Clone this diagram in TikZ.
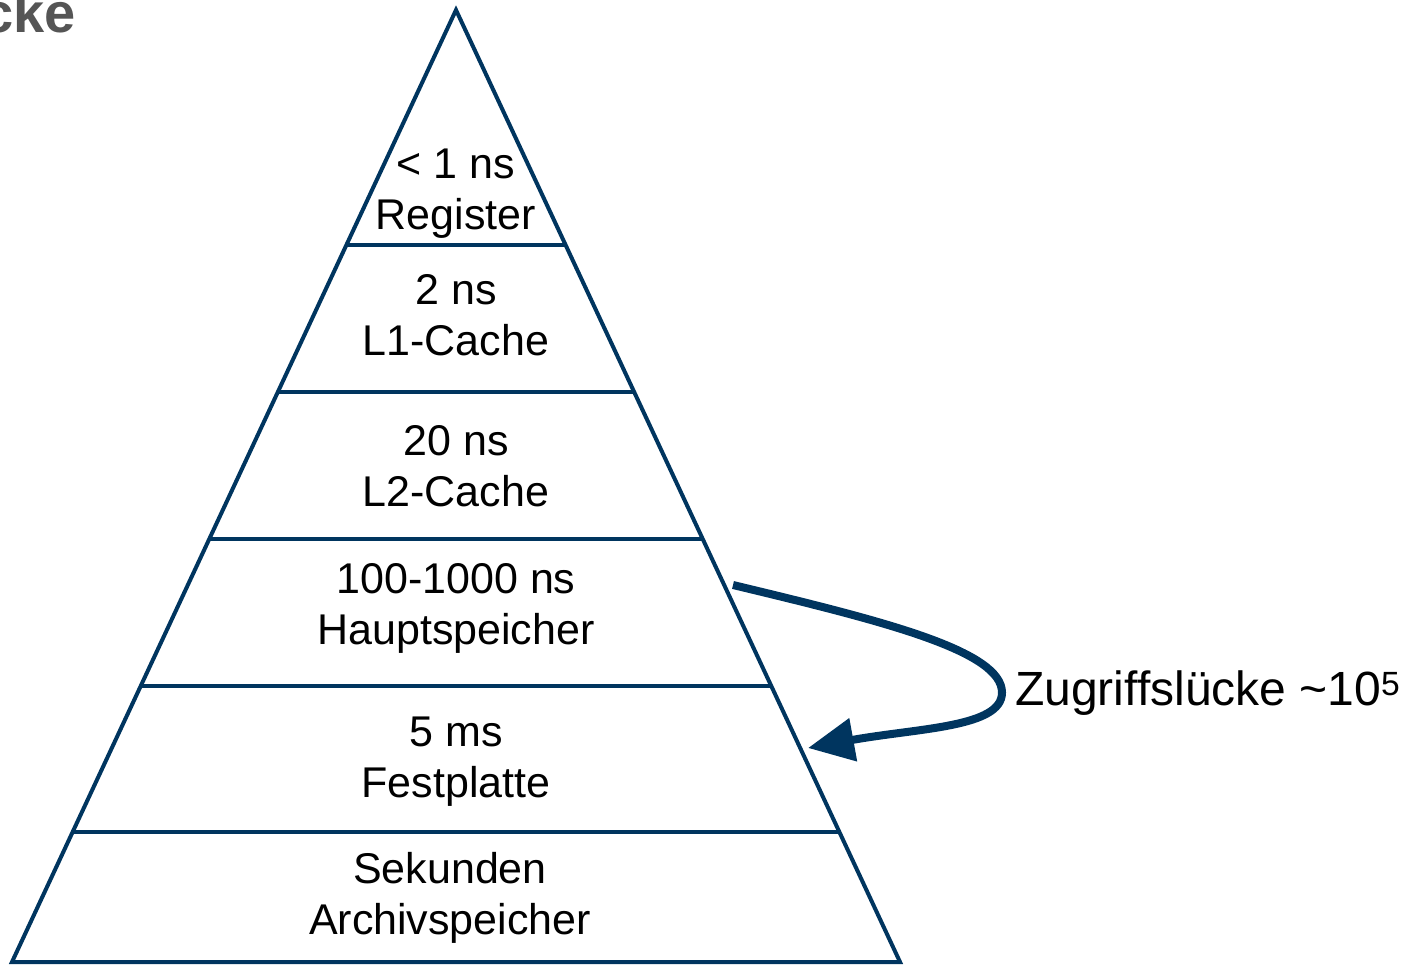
\documentclass[tikz,border=0pt]{standalone}
\usepackage{fontspec}
\setmainfont{Liberation Sans}
\usepackage{tikz}
\usetikzlibrary{arrows, arrows.meta, positioning, calc}
\definecolor{pyrblue}{RGB}{0,53,95}
\definecolor{titlegray}{RGB}{85,85,85}

\begin{document}
\begin{tikzpicture}
            [x=1pt, y=-1pt,
            level/.style={draw=pyrblue, line width=4pt},
            layer/.style={align=center, anchor=base, inner sep=0pt, font=\fontsize{43}{51}\selectfont},
            gap/.style={draw=pyrblue, line width=8pt, -{Triangle[length=46pt, width=42pt]}}]
            \useasboundingbox (0,0) rectangle (1420,965);

            % title, cut off at the left edge
            \node[anchor=base east, inner sep=0pt, text=titlegray, font=\fontsize{56}{60}\selectfont\bfseries] (title) at (76,33) {cke};

            % pyramid
            \coordinate (apex) at (456,10);
            \coordinate (bl) at (12,962);
            \coordinate (br) at (900,962);
            \draw[level] (apex) -- (bl) -- (br) -- cycle;
            \foreach \y in {245,392,539,686,832}
                \draw[level] ($(apex)!{(\y-10)/952}!(bl)$) -- ($(apex)!{(\y-10)/952}!(br)$);

            \node[layer] (reg)  at (456,230) {< 1 ns\\Register};
            \node[layer] (l1)   at (456,355) {2 ns\\L1-Cache};
            \node[layer] (l2)   at (456,506) {20 ns\\L2-Cache};
            \node[layer] (ram)  at (456,644) {100-1000 ns\\Hauptspeicher};
            \node[layer] (hdd)  at (456,797) {5 ms\\Festplatte};
            \node[layer] (tape) at (450,934) {Sekunden\\Archivspeicher};

            % access gap
            \node[anchor=base west, inner sep=0pt, font=\fontsize{48}{54}\selectfont] (gaplabel) at (1015,705)
            {Zugriffslücke \textasciitilde10\textsuperscript{5}};
            \coordinate (gapstart) at (733,585);
            \coordinate (gapend) at (808,748);
            \draw[gap] (gapstart) .. controls +(150,36) and +(0,-42) .. ([xshift=-13pt]gaplabel.west)
                .. controls +(0,35) and +(110,-20) .. (gapend);
        \end{tikzpicture}
\end{document}
